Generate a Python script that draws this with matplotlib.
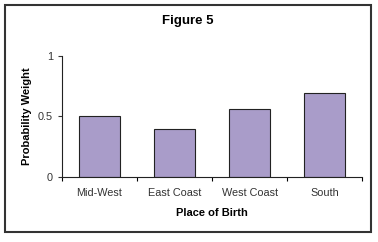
import matplotlib
matplotlib.use("Agg")
import matplotlib.pyplot as plt
from matplotlib.patches import Rectangle

# data
categories = ["Mid-West", "East Coast", "West Coast", "South"]
weights = [0.50, 0.40, 0.56, 0.69]
y_ticks = [0, 0.5, 1]
y_tick_labels = ["0", "0.5", "1"]

plt.rcParams['font.family'] = ['Liberation Sans', 'DejaVu Sans']

fig = plt.figure(figsize=(3.78, 2.42), dpi=100)
ax = fig.add_axes([0.164, 0.269, 0.794, 0.5])

x = list(range(len(categories)))
ax.bar(x, weights, width=0.54, color="#a99cc9", edgecolor="#222222", linewidth=0.8)

ax.set_xlim(-0.5, len(categories) - 0.5)
ax.set_ylim(0, 1)
ax.set_yticks(y_ticks)
ax.set_yticklabels(y_tick_labels)

# category labels centred, ticks between categories
ax.set_xticks([i - 0.5 for i in range(len(categories) + 1)])
ax.set_xticklabels([])
ax.set_xticks(x, minor=True)
ax.set_xticklabels(categories, minor=True)
ax.tick_params(axis="x", which="minor", length=0, pad=8, labelsize=7.8, colors="#333333")
ax.tick_params(axis="x", which="major", length=3, direction="out", width=0.8)
ax.tick_params(axis="y", length=3, direction="out", width=0.8, labelsize=7.8, colors="#333333")

for s in ["top", "right"]:
    ax.spines[s].set_visible(False)
for s in ["left", "bottom"]:
    ax.spines[s].set_linewidth(0.8)
    ax.spines[s].set_color("#222222")

ax.set_ylabel("Probability Weight", fontsize=8, fontweight="bold", labelpad=4)
ax.set_xlabel("Place of Birth", fontsize=8, fontweight="bold", labelpad=7)
fig.text(0.497, 0.915, "Figure 5", fontsize=9.5, fontweight="bold", ha="center", va="center")

# outer frame around the whole chart
fig.patches.append(Rectangle((0.014, 0.04), 0.968, 0.94, transform=fig.transFigure,
                             fill=False, edgecolor="#333333", linewidth=1.5))

fig.savefig("out.png", dpi=100)
